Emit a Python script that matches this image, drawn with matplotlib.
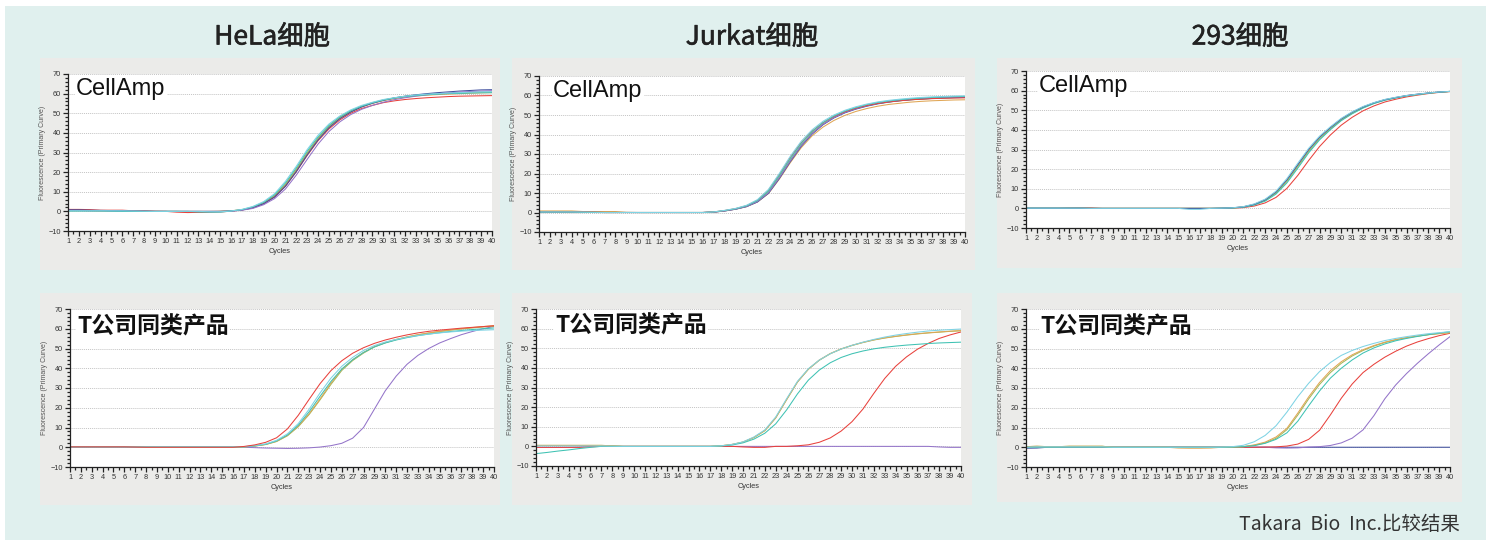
import matplotlib
matplotlib.use('Agg')
import matplotlib.pyplot as plt
from matplotlib.patches import Rectangle
from matplotlib.ticker import MultipleLocator
from matplotlib import font_manager
import matplotlib.patheffects as pe

# ---------------- data ----------------
cycles = list(range(1, 41))
col_titles = ["HeLa细胞", "Jurkat细胞", "293细胞"]
row_labels = ["CellAmp", "T公司同类产品"]
x_ticks = list(range(1, 41))
y_ticks = [-10, 0, 10, 20, 30, 40, 50, 60, 70]
footnote = "Takara  Bio  Inc.比较结果"

# HeLa - CellAmp
hela_ca_orange = [0.5,0.5,0.4,0.3,0.3,0.2,0.1,0.1,0,0, 0,0,0,0,0.1,0.3,0.8,2.0,4.2,7.8, 13.5,21.0,29.5,37.0,43.0,47.5,50.8,53.2,55.0,56.4, 57.4,58.2,58.8,59.2,59.5,59.8,60.0,60.2,60.4,60.5]
hela_ca_green  = [0.3,0.3,0.3,0.2,0.2,0.1,0,0,0,0, 0,-0.2,-0.3,-0.3,0,0.3,0.8,2.1,4.3,8.0, 13.8,21.4,29.8,37.3,43.4,47.9,51.2,53.6,55.4,56.8, 57.8,58.6,59.2,59.6,60.0,60.2,60.4,60.6,60.7,60.8]
hela_ca_cyan   = [0.3,0.3,0.3,0.3,0.3,0.3,0.2,0.1,0,0, 0,0,0,-0.2,-0.2,0.2,1.0,2.5,5.0,9.0, 15.3,23.0,31.5,38.8,44.5,48.6,51.7,54.0,55.6,57.0, 57.9,58.7,59.3,59.7,60.0,60.3,60.5,60.7,60.9,61.0]
hela_ca_teal   = [0.2,0.2,0.2,0.2,0.1,0,0,0,0,0, 0,0,-0.3,-0.4,-0.4,0.2,0.9,2.3,4.6,8.5, 14.5,22.2,30.7,38.0,43.8,48.2,51.3,53.6,55.3,56.7, 57.7,58.5,59.0,59.4,59.7,60.0,60.1,60.3,60.4,60.5]
hela_ca_red    = [1.0,1.0,0.9,0.6,0.6,0.6,0.3,0.4,0.1,0, -0.4,-0.6,-0.5,-0.5,-0.3,0.1,0.7,1.8,3.9,7.3, 12.8,20.2,28.5,36.0,42.0,46.6,50.0,52.4,54.0,55.4, 56.3,57.0,57.5,57.9,58.2,58.5,58.7,58.8,58.9,59.0]
hela_ca_navy   = [0.8,0.8,0.6,0.5,0.4,0.3,0.2,0.1,0,0, 0,0,0,0,0,0.2,0.7,1.8,3.9,7.3, 12.8,20.3,28.8,36.4,42.6,47.2,50.6,53.2,55.1,56.6, 57.8,58.7,59.4,60.0,60.5,60.9,61.3,61.6,61.9,62.0]
hela_ca_purple = [0.4,0.4,0.3,0.3,0.2,0.1,0,0,0,0, 0,0,0,0,0,0.1,0.6,1.5,3.4,6.5, 11.4,18.5,26.5,34.3,40.7,45.6,49.3,52.0,54.0,55.6, 56.9,57.9,58.7,59.4,59.9,60.4,60.8,61.1,61.3,61.5]

# Jurkat - CellAmp
jk_ca_orange = [0.8,0.8,0.8,0.8,0.5,0.5,0.5,0.5,0.1,0, 0,0,0,0,0,0,0.2,0.8,1.7,3.0, 5.4,9.7,17.1,25.5,33.2,39.3,43.8,47.2,49.8,51.8, 53.3,54.5,55.4,56.0,56.6,57.0,57.3,57.5,57.7,57.8]
jk_ca_green  = [0.4,0.4,0.4,0.4,0.2,0.1,0,0,0,0, 0,0,0,0,0,0,0.2,0.9,1.8,3.2, 5.8,10.5,18.3,26.8,34.6,40.8,45.4,48.8,51.4,53.3, 54.8,55.9,56.7,57.3,57.8,58.2,58.5,58.8,59.0,59.2]
jk_ca_navy   = [0.2,0.2,0.2,0.2,0.1,0.1,0,0,0,0, 0,0,0,0,0,0,0.2,0.8,1.7,3.0, 5.4,9.8,17.4,26.0,33.9,40.2,45.0,48.5,51.1,53.0, 54.5,55.7,56.6,57.3,57.8,58.2,58.5,58.7,58.9,59.0]
jk_ca_purple = [0.2,0.2,0.2,0.2,0.1,0,0,0,0,0, 0,0,0,0,0,0,0.2,0.8,1.7,3.1, 5.6,10.1,17.8,26.4,34.3,40.5,45.2,48.7,51.3,53.2, 54.7,55.9,56.8,57.5,58.0,58.4,58.7,59.0,59.2,59.3]
jk_ca_red    = [0.3,0.3,0.3,0.3,0.2,0.1,0,0,0,0, 0,0,0,0,0,0,0.3,1.0,2.0,3.5, 6.3,11.4,19.4,28.2,35.8,41.7,46.1,49.3,51.7,53.5, 54.9,55.9,56.7,57.3,57.8,58.1,58.4,58.6,58.7,58.8]
jk_ca_teal   = [0.2,0.2,0.2,0.2,0.1,0,0,0,0,0, 0,0,0,0,0,0,0.3,1.0,1.9,3.4, 6.1,11.0,19.0,27.6,35.4,41.5,46.1,49.5,52.0,53.8, 55.3,56.4,57.2,57.8,58.3,58.7,59.0,59.2,59.4,59.5]
jk_ca_cyan   = [0.3,0.3,0.3,0.3,0.2,0.1,0,0,0,0, 0,0,0,0,0,0,0.3,1.1,2.1,3.7, 6.6,11.8,20.0,28.8,36.5,42.4,46.8,50.0,52.4,54.2, 55.6,56.7,57.5,58.1,58.6,59.0,59.3,59.5,59.7,59.8]

# 293 - CellAmp
c293_ca_red    = [0,0,0,0,0.2,0.3,0.3,0,0,0, 0,0,0,0,0,0,0,0,0,0.1, 0.4,1.2,2.8,5.6,10.2,16.8,24.4,31.5,37.4,42.4, 46.4,49.7,52.2,54.2,55.6,56.8,57.7,58.5,59.1,59.5]
c293_ca_orange = [0.1,0.1,0.1,0.1,0.1,0.1,0,0,0,0, 0,0,0,0,0,0,0,0,0.1,0.2, 0.8,2.0,4.2,8.1,14.2,21.9,29.6,36.0,41.0,45.4, 48.8,51.6,53.7,55.3,56.4,57.4,58.1,58.7,59.2,59.6]
c293_ca_green  = [0.1,0.1,0.1,0.1,0.1,0.1,0,0,0,0, 0,0,0,0,0,0,0,0,0.1,0.2, 0.7,1.9,4.0,7.8,13.7,21.3,29.0,35.4,40.4,45.0, 48.4,51.3,53.5,55.2,56.3,57.4,58.0,58.7,59.2,59.6]
c293_ca_teal   = [0.1,0.1,0.1,0.1,0.1,0.1,0,0,0,0, 0,0,0,0,0,0,0,0,0.1,0.2, 0.6,1.7,3.7,7.3,13.0,20.5,28.3,34.9,40.1,44.7, 48.2,51.1,53.4,55.1,56.3,57.3,58.0,58.7,59.2,59.6]
c293_ca_purple = [0.1,0.1,0.1,0.1,0.1,0.1,0,0,0,0, 0,0,0,0,0,0,0,0,0.1,0.3, 0.8,2.1,4.4,8.4,14.6,22.3,30.0,36.3,41.2,45.6, 49.0,51.7,53.8,55.4,56.5,57.5,58.2,58.8,59.3,59.6]
c293_ca_cyan   = [0.1,0.1,0.1,0.1,0.1,0.1,0,0,0,0, 0,0,0,0,0,-0.5,-0.5,0,0.1,0.3, 0.9,2.3,4.7,8.8,15.2,23.0,30.6,36.8,41.6,45.9, 49.2,51.9,53.9,55.5,56.6,57.5,58.2,58.8,59.3,59.6]

# HeLa - T company
hela_t_purple = [0,0,0,0,0,0,0,0,0,0, 0,0,0,0,0,0,0,-0.2,-0.4,-0.5, -0.6,-0.5,-0.3,0.1,0.8,2.0,4.6,10.0,19.3,28.6, 36.0,42.0,46.5,50.0,52.8,55.0,57.0,58.6,60.0,61.2]
hela_t_green  = [0.3,0.3,0.3,0.3,0.3,0.3,0.3,0.1,0,0, 0,0,0,0,0,0,0.2,0.6,1.4,2.9, 5.8,10.4,16.6,24.0,31.8,38.9,43.9,47.7,50.8,52.9, 54.5,55.8,56.9,57.8,58.6,59.3,59.9,60.4,60.9,61.3]
hela_t_orange = [0.3,0.3,0.3,0.3,0.3,0.3,0.3,0.1,0,0, 0,0,0,0,0,0,0.2,0.6,1.4,3.0, 6.0,10.7,17.0,24.5,32.5,39.5,44.3,48.0,51.0,53.0, 54.6,55.9,57.0,57.9,58.7,59.4,60.0,60.6,61.1,61.6]
hela_t_teal   = [0.2,0.2,0.2,0.2,0.2,0.2,0.2,0.2,0.2,0.2, 0.2,0.2,0.2,0.2,0.2,0.2,0.2,0.7,1.5,3.2, 6.2,11.2,18.0,25.8,33.3,39.6,44.3,48.0,50.8,52.8, 54.3,55.5,56.5,57.3,58.0,58.6,59.1,59.6,60.0,60.4]
hela_t_cyan   = [0.2,0.2,0.2,0.2,0.2,0.2,0.2,0.2,0.2,0.2, 0.2,0.2,0.2,0.2,0.2,0.2,0.3,0.8,1.7,3.5, 6.8,12.0,19.3,27.5,35.0,41.0,45.5,49.0,51.5,53.3, 54.6,55.7,56.6,57.3,57.9,58.4,58.8,59.1,59.3,59.5]
hela_t_red    = [0.2,0.2,0.2,0.2,0.2,0.2,0.1,0,0,0, 0,0,0,0,0,0,0.4,1.2,2.5,4.8, 9.3,16.2,24.3,32.2,38.8,43.8,47.6,50.4,52.6,54.3, 55.7,56.9,57.9,58.7,59.3,59.8,60.3,60.7,61.1,61.5]

# Jurkat - T company
jk_t_purple = [-0.5,-0.5,-0.5,-0.5,-0.3,0,0,0,0,0, 0,0,0,0,0,0,0,0,0,0, 0,0,0,0,0,0,0,0,0,0, 0,0,0,0,0,0,0,-0.3,-0.5,-0.5]
jk_t_red    = [-0.5,-0.5,-0.5,-0.5,-0.5,-0.2,0,0,0,0, 0,0,0,0,0,0,0,0,0,-0.3, -0.5,-0.5,0,0,0.3,0.8,2.1,4.3,7.8,12.6, 19.0,27.0,34.6,40.8,45.6,49.5,52.5,55.0,56.8,58.3]
jk_t_green  = [0.5,0.5,0.5,0.5,0.5,0.5,0.5,0.3,0,0, 0,0,0,0,0,0,0,0.3,1.0,2.2, 4.5,8.0,14.5,23.8,32.8,39.3,43.9,47.2,49.6,51.4, 52.9,54.2,55.2,56.0,56.7,57.3,57.8,58.2,58.6,58.9]
jk_t_orange = [0.5,0.5,0.5,0.5,0.5,0.5,0.5,0.3,0,0, 0,0,0,0,0,0,0,0.3,1.0,2.2, 4.6,8.1,14.6,23.9,32.9,39.4,44.0,47.3,49.7,51.5, 53.0,54.3,55.3,56.1,56.8,57.4,57.9,58.3,58.7,59.0]
jk_t_teal   = [-3.7,-3.1,-2.4,-1.8,-1.1,-0.5,0,0,0,0, 0,0,0,0,0,0,0,0.2,0.7,1.8, 3.7,6.7,11.5,18.6,26.8,33.8,38.9,42.6,45.3,47.2, 48.6,49.7,50.5,51.1,51.6,52.0,52.4,52.7,52.9,53.1]
jk_t_cyan   = [0.2,0.2,0.2,0.2,0.2,0.2,0.2,0.1,0,0, 0,0,0,0,0,0,0,0.3,1.0,2.3, 4.8,8.4,15.0,24.3,33.2,39.6,44.0,47.2,49.6,51.5, 53.1,54.5,55.7,56.7,57.5,58.2,58.8,59.2,59.5,59.8]

# 293 - T company
c293_t_purple = [0,0,0,0,0,0,0,0,0,0, 0,0,0,0,0,0,0,0,0,0, 0,0,0,-0.3,-0.4,-0.3,0.1,0.3,0.9,2.2, 4.6,8.8,16.0,24.5,31.5,37.3,42.5,47.3,51.8,56.0]
c293_t_red    = [0.1,0.1,0.1,0.1,0.1,0.1,0.1,0,0,0, 0,0,0,0,0,0,0,0,0,0, 0,0,0.1,0.2,0.6,1.6,4.0,8.6,16.4,24.8, 32.0,37.8,42.0,45.6,48.6,51.2,53.3,55.0,56.5,57.7]
c293_t_green  = [0.3,0.5,0.3,0.3,0.5,0.5,0.5,0.5,0,0, 0,0,0,0,0,0,0,0,0,0.1, 0.3,1.0,2.2,4.5,8.9,16.3,24.5,31.8,37.8,42.5, 46.2,49.0,51.2,53.0,54.4,55.4,56.3,57.0,57.6,58.1]
c293_t_orange = [0.3,0.5,0.3,0.3,0.5,0.5,0.5,0.5,0,0, 0,0,0,0,-0.4,-0.5,-0.5,-0.4,0,0.1, 0.3,1.2,2.6,5.2,9.6,17.3,25.5,32.8,38.8,43.3, 46.8,49.4,51.5,53.2,54.5,55.5,56.3,57.0,57.5,58.0]
c293_t_teal   = [0,0,0,0,0,0,0,0,0,0, 0,0,0,0,0,0,0,0,0,0.1, 0.3,0.8,2.0,4.0,7.3,13.2,21.0,28.5,35.0,40.0, 44.2,47.7,50.3,52.3,53.9,55.1,56.1,57.0,57.8,58.5]
c293_t_navy   = [-0.5,-0.4,0,0,0,0,0,0,0,0, 0,0,0,0,0,0,0,0,0,0, 0,0,0,0,0,0,0,0,0,0, 0,0,0,0,0,0,0,0,0,0]
c293_t_cyan   = [0,0.2,0.2,0.2,0.2,0.2,0.2,0.2,0,0, 0,0,0,0,0,0,0,0,0.1,0.3, 1.0,2.8,6.0,10.9,17.8,25.6,32.4,38.3,42.9,46.5, 49.0,51.0,52.6,54.0,55.1,56.0,56.8,57.5,58.0,58.5]

# ---------------- styling ----------------
C = {"red": "#e8413c", "purple": "#9474c9", "orange": "#e0a655", "green": "#a3b95a",
     "teal": "#3fc2b3", "cyan": "#7fd3e4", "navy": "#3f4f9e"}

panels = [
    [[(hela_ca_orange, "orange"), (hela_ca_green, "green"), (hela_ca_red, "red"), (hela_ca_navy, "navy"),
      (hela_ca_purple, "purple"), (hela_ca_teal, "teal"), (hela_ca_cyan, "cyan")],
     [(jk_ca_orange, "orange"), (jk_ca_green, "green"), (jk_ca_navy, "navy"), (jk_ca_purple, "purple"),
      (jk_ca_red, "red"), (jk_ca_teal, "teal"), (jk_ca_cyan, "cyan")],
     [(c293_ca_red, "red"), (c293_ca_orange, "orange"), (c293_ca_green, "green"), (c293_ca_teal, "teal"),
      (c293_ca_purple, "navy"), (c293_ca_cyan, "cyan")]],
    [[(hela_t_purple, "purple"), (hela_t_green, "green"), (hela_t_orange, "orange"), (hela_t_teal, "teal"),
      (hela_t_cyan, "cyan"), (hela_t_red, "red")],
     [(jk_t_purple, "purple"), (jk_t_red, "red"), (jk_t_green, "green"), (jk_t_orange, "orange"),
      (jk_t_teal, "teal"), (jk_t_cyan, "cyan")],
     [(c293_t_navy, "navy"), (c293_t_purple, "purple"), (c293_t_red, "red"), (c293_t_green, "green"),
      (c293_t_orange, "orange"), (c293_t_teal, "teal"), (c293_t_cyan, "cyan")]],
]

W, H = 1486, 540
fig = plt.figure(figsize=(W / 100, H / 100), dpi=100)
fig.patch.set_facecolor("white")

def px_rect(x0, y0, x1, y1, color, z=0):
    fig.patches.append(Rectangle((x0 / W, 1 - y1 / H), (x1 - x0) / W, (y1 - y0) / H,
                                 transform=fig.transFigure, facecolor=color, edgecolor="none", zorder=z))

px_rect(5, 6, W, H, "#e0f0ee")
gray_boxes = [[(40, 58, 500, 270), (512, 58, 975, 270), (997, 58, 1462, 268)],
              [(40, 293, 500, 505), (512, 293, 972, 505), (997, 293, 1462, 502)]]
for row in gray_boxes:
    for b in row:
        px_rect(*b, "#ebebe9", z=0.5)

axes_px = [[(68, 74, 492, 231), (539, 76, 965, 232), (1026, 71, 1450, 228)],
           [(70, 309, 494, 467), (536, 309, 961, 466), (1026, 309, 1450, 467)]]
label_off = [[8, 14, 13], [7, 19, 14]]

names = {f.name for f in font_manager.fontManager.ttflist}
tick_font = "Liberation Sans Narrow" if "Liberation Sans Narrow" in names else "Liberation Sans"
cjk = ["Noto Sans CJK SC", "DejaVu Sans"]

for r in range(2):
    for c in range(3):
        x0, y0, x1, y1 = axes_px[r][c]
        ax = fig.add_axes([x0 / W, 1 - y1 / H, (x1 - x0) / W, (y1 - y0) / H])
        ax.set_zorder(2)
        ax.set_facecolor("white")
        for vals, col in panels[r][c]:
            ax.plot(cycles, vals, color=C[col], lw=0.75, solid_joinstyle="round")
        ax.set_xlim(1, 40)
        ax.set_ylim(-10, 70)
        ax.set_xticks(x_ticks)
        ax.set_yticks(y_ticks)
        ax.xaxis.set_minor_locator(MultipleLocator(0.5))
        ax.yaxis.set_minor_locator(MultipleLocator(2))
        ax.grid(axis="y", which="major", color="#c4c4c4", lw=0.7, ls=(0, (1, 1)))
        ax.set_axisbelow(True)
        for s in ("top", "right"):
            ax.spines[s].set_visible(False)
        for s in ("left", "bottom"):
            ax.spines[s].set_color("#222222")
            ax.spines[s].set_linewidth(0.9)
        ax.tick_params(axis="both", which="major", length=3.5, width=0.9, color="#222222",
                       labelsize=5.3, labelcolor="#333333", pad=1.5)
        ax.tick_params(axis="both", which="minor", length=2.5, width=0.9, color="#222222")
        for lab in ax.get_xticklabels() + ax.get_yticklabels():
            lab.set_fontfamily(tick_font)
        ax.set_xlabel("Cycles", fontsize=5.3, color="#333333", labelpad=2, family=tick_font)
        ax.set_ylabel("Fluorescence (Primary Curve)", fontsize=5.0, color="#555555", labelpad=2,
                      family="Liberation Sans")
        off = label_off[r][c] / (x1 - x0)
        if r == 0:
            ax.text(off, 0.905, row_labels[r], transform=ax.transAxes, fontsize=17,
                    family="Liberation Sans", color="#111111", va="center", ha="left", zorder=5,
                    bbox=dict(facecolor="white", edgecolor="none", pad=1.0))
        else:
            ax.text(off, 0.889, row_labels[r], transform=ax.transAxes, fontsize=16.5,
                    family=cjk, weight="bold", color="#111111", va="center", ha="left", zorder=5,
                    bbox=dict(facecolor="white", edgecolor="none", pad=1.0))

col_centers = [272, 752, 1240]
for t, cx in zip(col_titles, col_centers):
    fig.text(cx / W, 1 - 37 / H, t, fontsize=19, family=cjk, weight="normal", color="#222222",
             ha="center", va="center", zorder=5,
             path_effects=[pe.withStroke(linewidth=0.45, foreground="#222222")])

fig.text(1460 / W, 1 - 525 / H, footnote, fontsize=14, family=cjk, color="#333333",
         ha="right", va="center", zorder=5)

fig.savefig("out.png", dpi=100)
